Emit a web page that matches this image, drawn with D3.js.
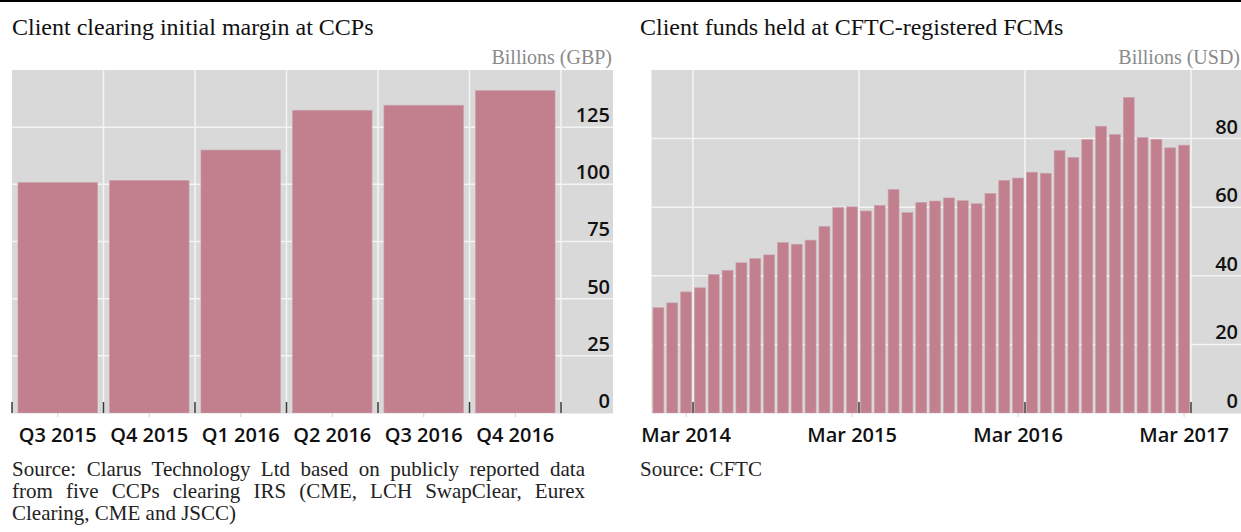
<!DOCTYPE html>
<html lang="en">
<head>
<meta charset="UTF-8">
<title>Client clearing margin and FCM funds</title>
<script src="https://d3js.org/d3.v7.min.js"></script>
<style>
    body { margin: 0; background: #fff; }
    svg { display: block; }
    .title { font-family: "Liberation Serif", "Times New Roman", serif; font-size: 24px; fill: #111; }
    .unit { font-family: "Liberation Serif", serif; font-size: 20px; fill: #8a8a8a; }
    .note { font-family: "Liberation Serif", serif; font-size: 21px; fill: #222; }
    .axis text { font-family: "Open Sans", sans-serif; font-size: 20px; font-weight: 600; fill: #111; }
</style>
</head>
<body>
<svg width="1241" height="532"></svg>
<script>
// left panel: quarterly IM, GBP bn
const quarters = ["Q3 2015", "Q4 2015", "Q1 2016", "Q2 2016", "Q3 2016", "Q4 2016"];
const marginGBP = [100.8, 101.7, 115.0, 132.4, 134.6, 141.0];
const gbpTicks = [0, 25, 50, 75, 100, 125];

// right panel: monthly client funds, USD bn
const months = ["Jan 2014", "Feb 2014", "Mar 2014", "Apr 2014", "May 2014", "Jun 2014", "Jul 2014", "Aug 2014",
    "Sep 2014", "Oct 2014", "Nov 2014", "Dec 2014", "Jan 2015", "Feb 2015", "Mar 2015", "Apr 2015",
    "May 2015", "Jun 2015", "Jul 2015", "Aug 2015", "Sep 2015", "Oct 2015", "Nov 2015", "Dec 2015",
    "Jan 2016", "Feb 2016", "Mar 2016", "Apr 2016", "May 2016", "Jun 2016", "Jul 2016", "Aug 2016",
    "Sep 2016", "Oct 2016", "Nov 2016", "Dec 2016", "Jan 2017", "Feb 2017", "Mar 2017"];
const fundsUSD = [30.7, 32.1, 35.3, 36.5, 40.4, 41.6, 43.8, 45.0, 46.1, 49.7, 49.2, 50.4,
    54.4, 59.9, 60.1, 58.9, 60.5, 65.2, 58.4, 61.4, 61.8, 62.7, 61.9, 61.0,
    64.0, 67.8, 68.5, 70.2, 69.9, 76.5, 74.5, 79.7, 83.6, 81.2, 92.0, 80.3,
    79.8, 77.3, 78.1];
const usdTicks = [0, 20, 40, 60, 80];
const monthTicks = ["Mar 2014", "Mar 2015", "Mar 2016", "Mar 2017"];

const svg = d3.select("svg");
const barColor = "#c2808f";

// rule across the top
svg.append("rect").attr("x", 0).attr("y", 0).attr("width", 1241).attr("height", 2).attr("fill", "#000");

function drawPanel(p) {
    const g = svg.append("g");
    const top = 70, bottom = 413;

    g.append("text").attr("class", "title").attr("x", p.titleX).attr("y", 35).text(p.title);
    g.append("text").attr("class", "unit").attr("x", p.right - 1).attr("y", 64)
        .attr("text-anchor", "end").text(p.unit);

    g.append("rect").attr("x", p.left).attr("y", top)
        .attr("width", p.right - p.left).attr("height", bottom - top).attr("fill", "#d9d9d9");

    const x = d3.scaleBand().domain(p.cats).range([p.left, p.bandEnd])
        .paddingInner(p.pad).paddingOuter(p.pad / 2);
    const y = d3.scaleLinear().domain([0, p.max]).range([bottom, top]);
    const step = x.step();
    // boundary to the right of a category
    const edge = c => p.left + step * (p.cats.indexOf(c) + 1);

    // horizontal grid
    g.append("g").selectAll("line").data(p.yTicks.filter(v => v > 0)).join("line")
        .attr("x1", p.left).attr("x2", p.right)
        .attr("y1", d => y(d)).attr("y2", d => y(d))
        .attr("stroke", "#f4f4f4").attr("stroke-width", 1.5);

    // vertical grid
    g.append("g").selectAll("line").data(p.vGrid).join("line")
        .attr("x1", d => edge(d)).attr("x2", d => edge(d))
        .attr("y1", top).attr("y2", bottom)
        .attr("stroke", "#f4f4f4").attr("stroke-width", 1.5);

    g.append("g").selectAll("rect").data(p.values).join("rect")
        .attr("x", (d, i) => x(p.cats[i]))
        .attr("width", x.bandwidth())
        .attr("y", d => y(d))
        .attr("height", d => bottom - y(d))
        .attr("fill", barColor)
        .attr("stroke", "#c9a2ac").attr("stroke-width", 0.6);

    // dark ticks at the boundaries
    g.append("g").selectAll("line").data(p.darkTicks).join("line")
        .attr("x1", d => d).attr("x2", d => d)
        .attr("y1", bottom - 11).attr("y2", bottom)
        .attr("stroke", "#3a3a3a").attr("stroke-width", 1.5);

    g.append("line").attr("x1", p.left).attr("x2", p.right)
        .attr("y1", bottom + 0.5).attr("y2", bottom + 0.5)
        .attr("stroke", "#ececec").attr("stroke-width", 1);

    // y labels, sitting above the gridline at the right edge
    const ya = g.append("g").attr("class", "axis")
        .attr("transform", `translate(${p.right - 3},0)`)
        .call(d3.axisLeft(y).tickValues(p.yTicks).tickSize(0).tickPadding(0));
    ya.select(".domain").remove();
    ya.selectAll("text").attr("dy", "-0.28em");

    // x labels
    const xa = g.append("g").attr("class", "axis")
        .attr("transform", `translate(0,${bottom})`)
        .call(d3.axisBottom(x).tickValues(p.xTicks).tickFormat(p.xFormat).tickSize(4));
    xa.select(".domain").remove();
    xa.selectAll(".tick line").attr("stroke", "#d0d0d0");
    xa.selectAll("text").attr("y", 28.5).attr("dy", 0);

    // source notes, justified by hand
    p.notes.forEach((line, i) => {
        const t = g.append("text").attr("class", "note")
            .attr("x", p.titleX).attr("y", 476 + i * 22).text(line.text);
        if (line.justify) {
            const spaces = line.text.split(" ").length - 1;
            const len = t.node().getComputedTextLength();
            t.style("word-spacing", ((line.justify - len) / spaces) + "px");
        }
    });
}

drawPanel({
    title: "Client clearing initial margin at CCPs",
    unit: "Billions (GBP)",
    titleX: 12,
    left: 12, right: 613, bandEnd: 561,
    cats: quarters, values: marginGBP, max: 150, pad: 0.13,
    yTicks: gbpTicks,
    vGrid: quarters,
    darkTicks: d3.range(quarters.length + 1).map(k => 12 + k * (561 - 12) / quarters.length),
    xTicks: quarters, xFormat: d => d,
    notes: [
        {text: "Source: Clarus Technology Ltd based on publicly reported data", justify: 573},
        {text: "from five CCPs clearing IRS (CME, LCH SwapClear, Eurex", justify: 573},
        {text: "Clearing, CME and JSCC)"}
    ]
});

drawPanel({
    title: "Client funds held at CFTC-registered FCMs",
    unit: "Billions (USD)",
    titleX: 640,
    left: 651.5, right: 1241, bandEnd: 1191,
    cats: months, values: fundsUSD, max: 100, pad: 0.21,
    yTicks: usdTicks,
    vGrid: monthTicks,
    darkTicks: monthTicks.map(m => 651.5 + (1191 - 651.5) / months.length * (months.indexOf(m) + 1)),
    xTicks: monthTicks, xFormat: d => d,
    notes: [{text: "Source: CFTC"}]
});
</script>
</body>
</html>
